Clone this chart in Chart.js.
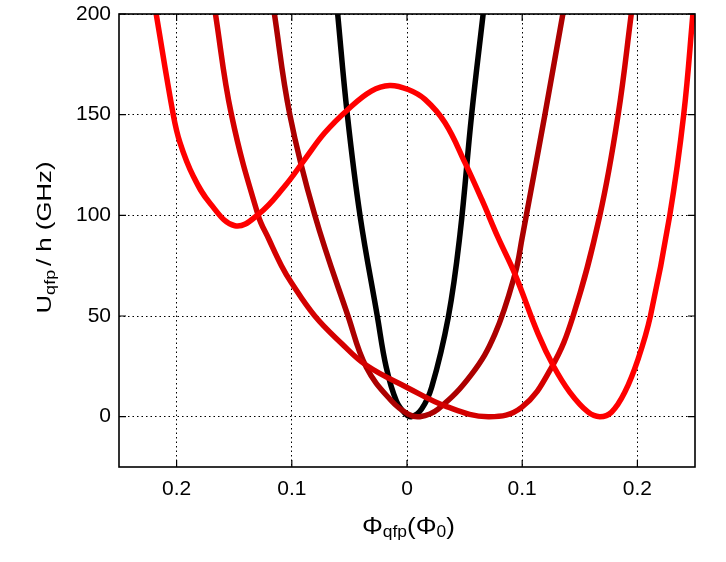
<!DOCTYPE html>
<html>
<head>
<meta charset="utf-8">
<script src="https://cdn.jsdelivr.net/npm/chart.js@4/dist/chart.umd.min.js"></script>
<style>
  body { margin: 0; background: #fff; }
  #wrap { width: 726px; height: 562px; }
</style>
</head>
<body>
<div id="wrap"><canvas id="myChart" width="726" height="562"></canvas></div>
<script>
// tick positions
const xTicks = [-0.2, -0.1, 0, 0.1, 0.2];
const yTicks = [0, 50, 100, 150, 200];

// curves (flux in Phi0, energy in GHz)
const blackX = [-0.0605, -0.0518, -0.0408, -0.0258, -0.018, -0.0093, -0.0015, 0.004, 0.0127, 0.0214, 0.0358, 0.046, 0.0561, 0.0665];
const blackY = [202, 150, 100, 50, 24.5, 7.9, 1.5, 0, 3.8, 14.6, 49.3, 90.6, 150, 202];

const maroonX = [-0.1156, -0.1017, -0.080, -0.0512, -0.0353, -0.0136, 0.001, 0.011, 0.027, 0.056, 0.0763, 0.0937, 0.100, 0.1197, 0.1356];
const maroonY = [202, 150, 100, 50, 24.5, 7.9, 1.3, 0, 3.8, 21, 41, 70.8, 89, 150, 201];

const redX = [-0.1668, -0.1524, -0.1292, -0.1198, -0.109, -0.1003, -0.080, -0.057, -0.0353, 0, 0.0344, 0.0705, 0.0995, 0.1255, 0.1442, 0.1674, 0.1833, 0.1949];
const redY = [202, 150, 100, 88, 75, 66.5, 50, 36.5, 25.5, 14.5, 5, 0, 4.6, 24.5, 50, 100, 150, 201];

const brightX = [-0.2183, -0.2029, -0.197, -0.1856, -0.171, -0.1494, -0.129, -0.106, -0.0887, -0.0714, -0.0512, -0.031, -0.015, 0.001, 0.0156, 0.033, 0.0503, 0.0648, 0.079, 0.0937, 0.1139, 0.127, 0.1414, 0.1573, 0.1674, 0.1775, 0.189, 0.2006, 0.2113, 0.2281, 0.2402, 0.2485];
const brightY = [202, 150, 136, 119.5, 106, 94.8, 100.5, 114.6, 127.8, 141, 152.6, 161.7, 164.5, 162.5, 157.6, 146, 126.2, 108, 89, 70.8, 41, 25.3, 12.1, 2.2, 0, 2.2, 12.1, 28.6, 50, 100, 150, 202];

function toPoints(xs, ys) {
    return xs.map((x, i) => ({ x: x, y: ys[i] }));
}

function curve(xs, ys, color, order) {
    return {
        data: toPoints(xs, ys),
        borderColor: color,
        borderWidth: 5.5,
        pointRadius: 0,
        tension: 0.4,
        fill: false,
        clip: 0,
        order: order
    };
}

const FONT = "'Liberation Sans', Arial, sans-serif";

// draws a row of text pieces (with subscripts), stretched to a given length
function drawRich(ctx, parts, len) {
    let total = 0;
    parts.forEach(p => {
        ctx.font = p.f + 'px ' + FONT;
        p.w = ctx.measureText(p.t).width;
        total += p.w + (p.gap || 0);
    });
    const sx = len / total;
    ctx.scale(sx, 1);
    let cx = -total / 2;
    parts.forEach(p => {
        cx += (p.gap || 0);
        ctx.font = p.f + 'px ' + FONT;
        ctx.fillText(p.t, cx, p.dy || 0);
        cx += p.w;
    });
}

const frame = {
    id: 'frame',
    afterDatasetsDraw(chart) {
        const { ctx, chartArea: a, scales: { x, y } } = chart;
        ctx.save();
        ctx.strokeStyle = '#000';
        ctx.lineWidth = 1.2;
        ctx.beginPath();
        xTicks.forEach(v => {
            const px = x.getPixelForValue(v);
            ctx.moveTo(px, a.bottom); ctx.lineTo(px, a.bottom - 7);
            ctx.moveTo(px, a.top); ctx.lineTo(px, a.top + 7);
        });
        yTicks.forEach(v => {
            const py = y.getPixelForValue(v);
            ctx.moveTo(a.left, py); ctx.lineTo(a.left + 7, py);
            ctx.moveTo(a.right, py); ctx.lineTo(a.right - 7, py);
        });
        ctx.stroke();
        ctx.lineWidth = 1.6;
        ctx.strokeRect(a.left, a.top, a.right - a.left, a.bottom - a.top);
        ctx.restore();
    },
    afterDraw(chart) {
        const ctx = chart.ctx;
        ctx.save();
        ctx.fillStyle = '#000';
        ctx.textAlign = 'left';
        ctx.textBaseline = 'alphabetic';

        // x axis title
        ctx.save();
        ctx.translate(408.5, 533.5);
        drawRich(ctx, [
            { t: 'Φ', f: 24 },
            { t: 'qfp', f: 16, dy: 3.5 },
            { t: '(Φ', f: 24 },
            { t: '0', f: 16, dy: 3.5 },
            { t: ')', f: 24 }
        ], 93);
        ctx.restore();

        // y axis title
        ctx.save();
        ctx.translate(51, 237.5);
        ctx.rotate(-Math.PI / 2);
        drawRich(ctx, [
            { t: 'U', f: 20 },
            { t: 'qfp', f: 14, dy: 4 },
            { t: '/ h (GHz)', f: 20, gap: 3 }
        ], 152);
        ctx.restore();

        ctx.restore();
    }
};

const data = {
    datasets: [
        curve(blackX, blackY, '#000000', 3),
        curve(maroonX, maroonY, 'rgb(172,0,0)', 2),
        curve(redX, redY, 'rgb(212,0,0)', 1),
        curve(brightX, brightY, 'rgb(255,0,0)', 0)
    ]
};

const config = {
    type: 'line',
    data,
    options: {
        responsive: false,
        animation: false,
        layout: {
            padding: { left: 0, right: 31, top: 14, bottom: 0 }
        },
        plugins: {
            legend: { display: false },
            tooltip: { enabled: false }
        },
        scales: {
            x: {
                type: 'linear',
                min: -0.25,
                max: 0.25,
                afterBuildTicks: scale => { scale.ticks = xTicks.map(v => ({ value: v })); },
                afterFit: scale => {
                    scale.height = 95;
                    scale.paddingLeft = 0;
                    scale.paddingRight = 0;
                },
                grid: { color: '#000', lineWidth: 1, drawTicks: false },
                border: { display: false, dash: [1.5, 3] },
                ticks: {
                    color: '#000',
                    padding: 10,
                    font: { family: FONT, size: 21 },
                    maxRotation: 0,
                    callback: v => String(Math.abs(v))
                }
            },
            y: {
                min: -25,
                max: 200,
                afterBuildTicks: scale => { scale.ticks = yTicks.map(v => ({ value: v })); },
                afterFit: scale => {
                    scale.width = 119;
                    scale.paddingTop = 0;
                    scale.paddingBottom = 0;
                },
                grid: { color: '#000', lineWidth: 1, drawTicks: false },
                border: { display: false, dash: [1.5, 3] },
                ticks: {
                    color: '#000',
                    padding: 8,
                    font: { family: FONT, size: 21 }
                }
            }
        }
    },
    plugins: [frame]
};

const myChart = new Chart(
    document.getElementById('myChart'),
    config
);
</script>
</body>
</html>
